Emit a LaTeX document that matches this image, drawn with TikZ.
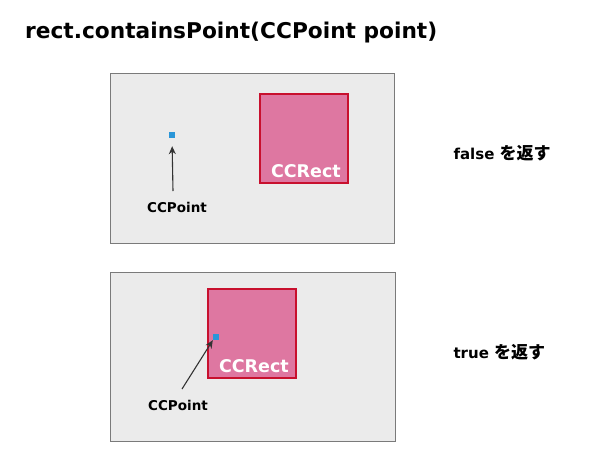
\documentclass[tikz,border=0pt]{standalone}
\usepackage{fontspec}
\setmainfont{DejaVu Sans}
\newfontfamily\jpfont{Noto Sans CJK JP}
\usetikzlibrary{positioning,arrows.meta}
\definecolor{cpbg}{HTML}{EBEBEB}
\definecolor{cpframe}{HTML}{7A7A7A}
\definecolor{cprect}{HTML}{DE77A1}
\definecolor{cpborder}{HTML}{C8102E}
\definecolor{cppoint}{HTML}{2A96D8}
\definecolor{cparrow}{HTML}{333333}
\tikzset{
  panel/.style={fill=cpbg,draw=cpframe,line width=0.8pt},
  ccrect/.style={fill=cprect,draw=cpborder,line width=1.6pt},
  rectlabel/.style={anchor=south east,text=white,font=\fontsize{17.5}{20}\selectfont\bfseries,inner sep=3pt},
  ccpoint/.style={fill=cppoint,inner sep=0pt,minimum size=6pt},
  ptlabel/.style={font=\fontsize{13.5}{15}\selectfont\bfseries,text=black},
  result/.style={anchor=west,font=\fontsize{15}{17}\selectfont\bfseries,text=black},
  pointer/.style={-{Stealth[length=8pt,width=7pt]},line width=1.1pt,draw=cparrow}
}
\begin{document}
\begin{tikzpicture}[x=1pt,y=-1pt]
  \useasboundingbox (0,0) rectangle (600,467);
  % ---------- title ----------
  \node[anchor=west,inner sep=0pt,font=\fontsize{21.7}{24}\selectfont\bfseries] (title) at (25,33) {rect.containsPoint(CCPoint point)};
  % ---------- upper case: outside ----------
  \draw[panel] (110,73) rectangle (394,243);
  \draw[ccrect] (260,94) rectangle (348,183);
  \node[rectlabel] (rectA) at (344,181) {CCRect};
  \node[ccpoint] (ptA) at (172,135) {};
  \node[ptlabel] (labA) at (177,207) {CCPoint};
  \draw[pointer,shorten >=8pt] (173,191) -- (ptA.south);
  \node[result] (resA) at (450,153) {false {\jpfont\fontsize{17}{19}\selectfont を返す}};
  % ---------- lower case: inside ----------
  \draw[panel] (110,272) rectangle (395,441);
  \draw[ccrect] (208,289) rectangle (296,378);
  \node[rectlabel] (rectB) at (292,376) {CCRect};
  \node[ccpoint] (ptB) at (216,337) {};
  \node[ptlabel] (labB) at (178,405) {CCPoint};
  \draw[pointer] (182,389) -- (ptB.south west);
  \node[result] (resB) at (450,352) {true {\jpfont\fontsize{17}{19}\selectfont を返す}};
\end{tikzpicture}
\end{document}
